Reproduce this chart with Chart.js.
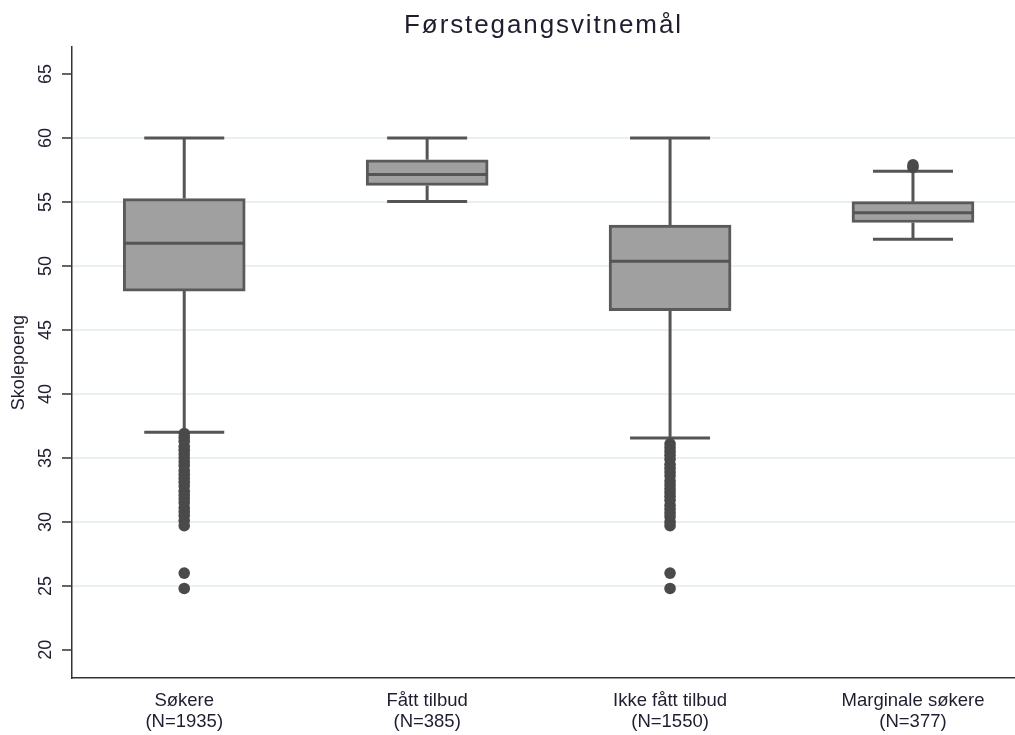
<!DOCTYPE html>
<html>
<head>
<meta charset="utf-8">
<script src="https://cdn.jsdelivr.net/npm/chart.js@4.4.1/dist/chart.umd.min.js"></script>
<style>
  html, body { margin: 0; padding: 0; background: #fff; overflow: hidden; }
  #wrap { width: 1015px; height: 735px; position: relative; }
  canvas { display: block; }
</style>
</head>
<body>
<div id="wrap"><canvas id="c" width="1015" height="735"></canvas></div>
<script>
// ---- Data ----
const categories = ['Søkere', 'Fått tilbud', 'Ikke fått tilbud', 'Marginale søkere'];
const counts = [1935, 385, 1550, 377];
const whiskerLow = [37.0, 55.05, 36.55, 52.1];
const q1 = [48.04, 56.3, 46.5, 53.4];
const median = [51.78, 57.15, 50.38, 54.17];
const q3 = [55.27, 58.3, 53.2, 55.03];
const whiskerHigh = [60.0, 60.0, 60.0, 57.4];
const outSokere = [36.9, 36.6, 36.3, 35.9, 35.6, 35.3, 35.0, 34.7, 34.4, 34.0, 33.7, 33.4, 33.1, 32.8, 32.4, 32.1, 31.8, 31.5, 31.1, 30.8, 30.5, 30.1, 29.7, 26.0, 24.8];
const outFatt = [];
const outIkke = [36.1, 35.8, 35.5, 35.2, 34.9, 34.5, 34.2, 33.9, 33.6, 33.2, 32.9, 32.6, 32.3, 32.0, 31.7, 31.3, 31.0, 30.7, 30.4, 30.0, 29.7, 26.0, 24.8];
const outMarg = [57.7, 57.9];
const outliers = [outSokere, outFatt, outIkke, outMarg];
const yTicks = [20, 25, 30, 35, 40, 45, 50, 55, 60, 65];

// ---- Styles ----
const FONT = "'Liberation Sans', Arial, sans-serif";
const TEXT = '#1e1e30';
const LINE = '#555555';
const CAP_HALF = 40;

const boxData = categories.map((c, i) => ({ x: i + 1, y: [q1[i], q3[i]] }));
const outlierData = [];
outliers.forEach((arr, i) => arr.forEach(v => outlierData.push({ x: i + 1, y: v })));

const boxParts = {
  id: 'boxParts',
  beforeDraw(chart) {
    // the title layer is drawn first; give it slightly wider letter spacing
    if ('letterSpacing' in chart.ctx) chart.ctx.letterSpacing = '1.9px';
  },
  beforeDatasetsDraw(chart) {
    const ctx = chart.ctx, xs = chart.scales.x, ys = chart.scales.y;
    if ('letterSpacing' in ctx) ctx.letterSpacing = '0px';
    ctx.save();
    ctx.strokeStyle = LINE;
    ctx.lineWidth = 3;
    ctx.lineCap = 'butt';
    categories.forEach((c, i) => {
      const px = xs.getPixelForValue(i + 1);
      const yHi = ys.getPixelForValue(whiskerHigh[i]);
      const yLo = ys.getPixelForValue(whiskerLow[i]);
      ctx.beginPath();
      ctx.moveTo(px, ys.getPixelForValue(q3[i])); ctx.lineTo(px, yHi);
      ctx.moveTo(px, ys.getPixelForValue(q1[i])); ctx.lineTo(px, yLo);
      ctx.moveTo(px - CAP_HALF, yHi); ctx.lineTo(px + CAP_HALF, yHi);
      ctx.moveTo(px - CAP_HALF, yLo); ctx.lineTo(px + CAP_HALF, yLo);
      ctx.stroke();
    });
    ctx.restore();
  },
  afterDatasetDraw(chart, args) {
    if (args.index !== 0) return;
    const ctx = chart.ctx, ys = chart.scales.y;
    const meta = chart.getDatasetMeta(0);
    ctx.save();
    ctx.strokeStyle = LINE;
    ctx.lineWidth = 3;
    meta.data.forEach((bar, i) => {
      const y = ys.getPixelForValue(median[i]);
      ctx.beginPath();
      ctx.moveTo(bar.x - bar.width / 2 + 1, y);
      ctx.lineTo(bar.x + bar.width / 2 - 1, y);
      ctx.stroke();
    });
    ctx.restore();
  }
};

new Chart(document.getElementById('c'), {
  data: {
    datasets: [
      {
        type: 'bar',
        data: boxData,
        backgroundColor: '#a0a0a0',
        borderColor: '#5a5a5a',
        borderWidth: 3,
        borderSkipped: false,
        barThickness: 122
      },
      {
        type: 'scatter',
        data: outlierData,
        backgroundColor: '#4a4a4a',
        borderWidth: 0,
        pointRadius: 5.8
      }
    ]
  },
  options: {
    responsive: false,
    animation: false,
    layout: { autoPadding: false, padding: { left: 0, right: 0, top: 0, bottom: 0 } },
    plugins: {
      legend: { display: false },
      tooltip: { enabled: false },
      title: {
        display: true,
        fullSize: false,
        text: 'Førstegangsvitnemål',
        color: TEXT,
        font: { family: FONT, size: 26, weight: 'normal', lineHeight: 1.2 },
        padding: { top: 10, bottom: 6 }
      }
    },
    scales: {
      x: {
        type: 'linear',
        offset: false,
        min: 0.538,
        max: 4.42,
        afterBuildTicks(scale) { scale.ticks = categories.map((c, i) => ({ value: i + 1 })); },
        afterFit(scale) { scale.height = 57; },
        ticks: {
          autoSkip: false,
          maxRotation: 0,
          minRotation: 0,
          padding: 12,
          z: 1,
          color: TEXT,
          font: { family: FONT, size: 18.5, lineHeight: 1.15 },
          callback(value) {
            const i = Math.round(value) - 1;
            return [categories[i], '(N=' + counts[i] + ')'];
          }
        },
        grid: { display: false, drawTicks: false },
        border: { display: true, color: '#333333', width: 1.5, z: 1 }
      },
      y: {
        type: 'linear',
        min: 17.8,
        max: 67.1,
        afterBuildTicks(scale) { scale.ticks = yTicks.map(v => ({ value: v })); },
        afterFit(scale) { scale.width = 72; },
        ticks: {
          minRotation: 90,
          maxRotation: 90,
          crossAlign: 'center',
          padding: 6,
          z: 1,
          color: TEXT,
          font: { family: FONT, size: 18 }
        },
        grid: {
          z: 0,
          color: (ctx) => {
            // grid layer is drawn right after the title: reset letter spacing
            if (ctx.chart && 'letterSpacing' in ctx.chart.ctx) ctx.chart.ctx.letterSpacing = '0px';
            return (ctx.tick && (ctx.tick.value === 20 || ctx.tick.value === 65)) ? 'rgba(0,0,0,0)' : '#e8f0f2';
          },
          lineWidth: 2,
          tickColor: '#333333',
          tickWidth: 1.5,
          tickLength: 10
        },
        border: { display: true, color: '#333333', width: 1.5, z: 1 },
        title: {
          display: true,
          text: 'Skolepoeng',
          color: TEXT,
          font: { family: FONT, size: 18, lineHeight: 1.2 },
          padding: { top: 8, bottom: 0 }
        }
      }
    }
  },
  plugins: [boxParts]
});
</script>
</body>
</html>
